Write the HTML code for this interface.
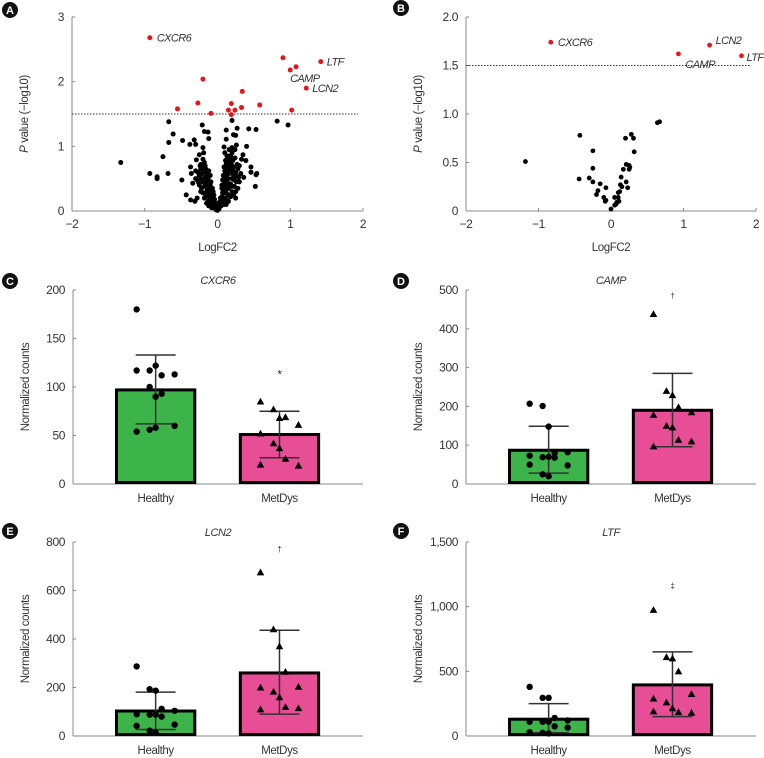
<!DOCTYPE html>
<html><head><meta charset="utf-8">
<style>
html,body{margin:0;padding:0;background:#fff;}
svg{display:block;font-family:"Liberation Sans Narrow","Liberation Sans",sans-serif;letter-spacing:-0.4px;}
</style></head>
<body>
<svg id="fig" width="764" height="758" viewBox="0 0 764 758" xmlns="http://www.w3.org/2000/svg"></svg>
<script>
// ---- Panel A data ----
const aBlackX=[-1.33,-0.93,-0.83,-0.83,-0.68,-0.67,-0.75,-0.61,-0.67,-0.49,-0.48,-0.43,-0.37,-0.37,-0.31,-0.28,-0.38,-0.32,-0.30,-0.34,-0.36,0.82,0.97,0.53,0.43,0.40,0.46,0.46,0.52,0.54,0.53,0.39,0.35,0.36,0.27,0.26,0.20,0.22,0.25,0.12,0.12,0.09,-0.13,-0.18,-0.21,-0.12,-0.20,-0.25,-0.29,-0.23,
-0.02,-0.03,-0.04,-0.05,-0.06,-0.07,-0.08,-0.09,-0.10,-0.11,-0.12,-0.13,-0.14,-0.15,-0.16,-0.17,-0.18,-0.20,-0.05,-0.08,-0.10,-0.12,-0.15,-0.18,-0.20,-0.22,-0.25,-0.27,-0.30,-0.22,-0.25,-0.28,-0.15,-0.18,-0.20,-0.23,-0.12,-0.30,-0.24,-0.21,-0.19,-0.26,-0.16,-0.14,-0.11,-0.07,-0.06,-0.09,-0.10,-0.12,
0.02,0.03,0.04,0.05,0.06,0.07,0.08,0.09,0.10,0.11,0.12,0.13,0.14,0.15,0.16,0.17,0.18,0.20,0.05,0.08,0.10,0.12,0.15,0.18,0.20,0.22,0.25,0.28,0.30,0.20,0.23,0.26,0.29,0.32,0.15,0.18,0.22,0.25,0.28,0.12,0.10,0.12,0.14,0.16,0.20,0.24,0.27,0.22,0.18,0.15,0.13,0.30,0.25,0.08,0.07,0.06,0.09,0.11,0.24,0.33,0,0.01,-0.01,0.02,
-0.03,-0.04,-0.06,-0.07,-0.09,-0.11,-0.13,-0.15,-0.17,-0.19,-0.21,-0.23,-0.08,-0.10,-0.13,-0.16,-0.02,0.04,0.06,0.08,0.10,0.11,0.13,0.14,0.16,0.17,0.19,0.21,0.23,0.26,0.09,0.12,0.15,0.17,0.19,0.21,0.03,-0.05,0.07,-0.14,0.13,0.10];
const aBlackY=[0.75,0.58,0.53,0.50,0.58,1.06,0.84,1.19,1.38,0.48,1.09,0.25,0.17,0.68,0.15,0.20,1.03,1.10,1.03,0.43,0.58,1.39,1.33,1.26,1.27,1.00,0.68,0.60,0.38,0.58,0.56,0.78,0.87,0.52,1.28,1.02,1.40,1.18,1.17,1.25,1.11,0.99,1.22,1.23,1.33,1.12,0.98,0.87,0.79,0.65,
0.02,0.05,0.08,0.10,0.15,0.20,0.25,0.30,0.35,0.40,0.45,0.50,0.55,0.60,0.65,0.70,0.75,0.80,0.05,0.12,0.18,0.22,0.30,0.38,0.45,0.50,0.55,0.60,0.62,0.35,0.40,0.48,0.12,0.20,0.28,0.30,0.08,0.50,0.70,0.58,0.90,0.44,0.42,0.33,0.26,0.35,0.30,0.45,0.55,0.62,
0.03,0.08,0.12,0.18,0.22,0.28,0.33,0.40,0.45,0.50,0.55,0.60,0.65,0.70,0.75,0.80,0.85,0.90,0.08,0.15,0.20,0.28,0.35,0.42,0.50,0.55,0.60,0.65,0.70,0.30,0.38,0.45,0.52,0.58,0.15,0.22,0.25,0.30,0.35,0.10,0.62,0.72,0.85,0.95,0.98,0.82,0.72,0.68,0.60,0.50,0.40,0.45,0.20,0.55,0.48,0.40,0.68,0.78,0.95,0.80,0.01,0.03,0.04,0.06,
0.12,0.18,0.22,0.12,0.20,0.30,0.40,0.48,0.52,0.60,0.66,0.72,0.05,0.40,0.15,0.25,0.08,0.20,0.35,0.38,0.28,0.62,0.45,0.35,0.58,0.40,0.72,0.62,0.48,0.54,0.10,0.18,0.25,0.65,0.38,0.78,0.14,0.25,0.10,0.45,0.85,0.90];
const aRedX=[-0.93,0.90,1.42,1.08,1.00,1.22,-0.20,0.34,-0.27,0.58,-0.55,0.19,0.15,0.24,0.33,-0.09,0.19,1.02];
const aRedY=[2.68,2.37,2.31,2.23,2.18,1.90,2.04,1.85,1.67,1.64,1.58,1.66,1.56,1.56,1.60,1.51,1.49,1.56];
const aLabels=["CXCR6","LTF","CAMP","LCN2"];
const aXTicks=[-2,-1,0,1,2];
const aYTicks=[0,1,2,3];
// ---- Panel B data ----
const bBlackX=[-1.18,-0.43,-0.44,-0.25,-0.25,-0.30,-0.25,-0.15,-0.18,-0.20,-0.10,-0.07,-0.07,-0.08,0.00,0.05,0.07,0.05,0.10,0.08,0.11,0.10,0.12,0.13,0.15,0.14,0.17,0.21,0.21,0.23,0.25,0.25,0.26,0.20,0.28,0.31,0.32,0.64,0.67];
const bBlackY=[0.51,0.78,0.33,0.62,0.44,0.34,0.30,0.28,0.21,0.17,0.14,0.24,0.11,0.10,0.02,0.06,0.07,0.14,0.14,0.09,0.10,0.19,0.20,0.27,0.25,0.35,0.43,0.48,0.30,0.24,0.43,0.47,0.45,0.75,0.79,0.75,0.61,0.91,0.92];
const bRedX=[-0.83,0.93,1.36,1.80];
const bRedY=[1.74,1.62,1.71,1.60];
const bXTicks=[-2,-1,0,1,2];
const bYTicks=[0,0.5,1.0,1.5,2.0];
const bYTickLabels=["0","0.5","1.0","1.5","2.0"];
// ---- Bar panels data ----
const groups=["Healthy","MetDys"];
const cMeans=[97,51], cLo=[62,27], cHi=[133,75];
const cHealthy=[180,117,122,112,113,117,100,90,93,60,54,56,58];
const cMet=[85,77,68,69,61,52,42,37,26,19,20];
const cTicks=[0,50,100,150,200];
const dMeans=[87,190], dLo=[28,96], dHi=[149,285];
const dHealthy=[207,201,148,80,82,73,69,70,68,48,50,25,20];
const dMet=[438,240,229,198,185,178,150,146,114,110,97];
const dTicks=[0,100,200,300,400,500];
const eMeans=[103,260], eLo=[27,90], eHi=[181,436];
const eHealthy=[287,193,187,112,104,90,88,88,80,47,42,22,15];
const eMet=[675,440,370,265,203,200,183,160,120,115,110];
const eTicks=[0,200,400,600,800];
const fMeans=[130,395], fLo=[25,150], fHi=[250,650];
const fHealthy=[380,295,295,140,120,110,110,110,75,65,30,25,20];
const fMet=[975,610,600,500,325,290,260,215,185,180,190];
const fTicks=[0,500,1000,1500];
const fTickLabels=["0","500","1,000","1,500"];

const NS="http://www.w3.org/2000/svg";
const svg=document.getElementById('fig');
function el(tag,attrs,parent,text){
  const e=document.createElementNS(NS,tag);
  for(const k in attrs)e.setAttribute(k,attrs[k]);
  if(text!==undefined)e.textContent=text;
  (parent||svg).appendChild(e);return e;
}
function panelLabel(x,y,L){
  const g=el('g',{});
  
  
  el('circle',{cx:x,cy:y,r:8,fill:'#111'},g);
  el('text',{x:x,y:y+4,'text-anchor':'middle','font-size':11,'font-weight':'bold',fill:'#fff','letter-spacing':0},g,L);
}
function volcano(opt){
  const g=el('g',{});
  
  
  const sx=v=>opt.x0+(v-(-2))/4*(opt.x1-opt.x0);
  const sy=v=>opt.y0-(v/opt.ymax)*(opt.y0-opt.y1);
  const ax=el('g',{},g);
  
  
  el('line',{x1:opt.x0,y1:opt.y1,x2:opt.x0,y2:opt.y0,stroke:'#888','stroke-width':1},ax);
  el('line',{x1:opt.x0,y1:opt.y0,x2:opt.x1,y2:opt.y0,stroke:'#888','stroke-width':1},ax);
  opt.xt.forEach(t=>{
    el('line',{x1:sx(t),y1:opt.y0,x2:sx(t),y2:opt.y0-3,stroke:'#888'},ax);
    const tx=el('text',{x:sx(t),y:opt.y0+17,'text-anchor':'middle','font-size':12,fill:'#333'},ax,t<0?'\u2212'+(-t):String(t));
    
    
  });
  opt.yt.forEach((t,i)=>{
    el('line',{x1:opt.x0,y1:sy(t),x2:opt.x0+3,y2:sy(t),stroke:'#888'},ax);
    const ty=el('text',{x:opt.x0-8,y:sy(t)+4,'text-anchor':'end','font-size':12,fill:'#333'},ax,opt.ytl?opt.ytl[i]:String(t));
    
    
  });
  const xl=el('text',{x:(opt.x0+opt.x1)/2,y:opt.y0+40,'text-anchor':'middle','font-size':11.5,fill:'#333'},g,'LogFC2');
  
  
  const cy=(opt.y0+opt.y1)/2;
  const yl=el('text',{x:opt.x0-44,y:cy,'text-anchor':'middle','font-size':11.5,fill:'#333',transform:`rotate(-90 ${opt.x0-44} ${cy})`},g);
  
  
  el('tspan',{'font-style':'italic'},yl,'P');
  el('tspan',{},yl,' value (\u2212log10)');
  const th=el('line',{x1:opt.x0,y1:sy(1.5),x2:opt.x1-5,y2:sy(1.5),stroke:'#333','stroke-width':1,'stroke-dasharray':'1.5,1.5'},g);
  
  
  opt.bx.forEach((v,i)=>{
    const c=el('circle',{cx:sx(v),cy:sy(opt.by[i]),r:opt.r,fill:'#000'},g);
    
    
  });
  opt.rx.forEach((v,i)=>{
    const c=el('circle',{cx:sx(v),cy:sy(opt.ry[i]),r:opt.r,fill:'#e8141b'},g);
    
    
  });
  opt.labels.forEach(l=>{
    const t=el('text',{x:sx(opt.rx[l[0]])+l[1],y:sy(opt.ry[l[0]])+l[2],'font-size':11,'font-style':'italic',fill:'#333','letter-spacing':-0.6},g,l[3]);
    
    
  });
}
volcano({id:'a',x0:72,x1:363,y0:211,y1:17,ymax:3,xt:aXTicks,yt:aYTicks,bx:aBlackX,by:aBlackY,rx:aRedX,ry:aRedY,r:2.5,
  labels:[[0,7,4,aLabels[0]],[2,6,4,aLabels[1]],[3,-6,15,aLabels[2]],[5,6,4,aLabels[3]]]});
volcano({id:'b',x0:466,x1:756,y0:211,y1:17,ymax:2,xt:bXTicks,yt:bYTicks,ytl:bYTickLabels,bx:bBlackX,by:bBlackY,rx:bRedX,ry:bRedY,r:2.4,
  labels:[[0,7,4,"CXCR6"],[1,7,14,"CAMP"],[2,6,-1,"LCN2"],[3,5,5,"LTF"]]});

function barPanel(opt){
  const g=el('g',{});
  
  
  const sy=v=>opt.y0-(v/opt.ymax)*(opt.y0-opt.y1);
  const ax=el('g',{},g);
  
  
  el('line',{x1:opt.x0,y1:opt.y1,x2:opt.x0,y2:opt.y0,stroke:'#888'},ax);
  el('line',{x1:opt.x0,y1:opt.y0,x2:opt.x1,y2:opt.y0,stroke:'#888'},ax);
  opt.ticks.forEach((t,i)=>{
    el('line',{x1:opt.x0,y1:sy(t),x2:opt.x0+3,y2:sy(t),stroke:'#888'},ax);
    const ty=el('text',{x:opt.x0-8,y:sy(t)+4,'text-anchor':'end','font-size':12,fill:'#333'},ax,opt.tl?opt.tl[i]:String(t));
    
    
  });
  const cy=(opt.y0+opt.y1)/2;
  const yl=el('text',{x:opt.x0-44,y:cy,'text-anchor':'middle','font-size':11.5,fill:'#333',transform:`rotate(-90 ${opt.x0-44} ${cy})`},g,'Normalized counts');
  
  
  const tt=el('text',{x:(opt.x0+opt.x1)/2,y:opt.y1-6,'text-anchor':'middle','font-size':11,'font-style':'italic',fill:'#333'},g,opt.gene);
  
  
  const w=opt.x1-opt.x0;
  const centers=[opt.x0+w*0.285,opt.x0+w*0.712];
  const bw=w*0.27;
  const cols=['#3cb44a','#e84e95'];
  const pts=[opt.h,opt.m];
  const jit=[-19,-6,0,6,19];
  groups.forEach((gname,i)=>{
    const c=centers[i];
    const b=el('rect',{x:c-bw/2,y:sy(opt.means[i]),width:bw,height:opt.y0-sy(opt.means[i])-1.5,fill:cols[i],stroke:'#000','stroke-width':3},g);
    
    
    const eb=el('g',{},g);
    
    
    el('line',{x1:c,y1:sy(opt.lo[i]),x2:c,y2:sy(opt.hi[i]),stroke:'#333','stroke-width':1.5},eb);
    el('line',{x1:c-20,y1:sy(opt.lo[i]),x2:c+20,y2:sy(opt.lo[i]),stroke:'#333','stroke-width':1.5},eb);
    el('line',{x1:c-20,y1:sy(opt.hi[i]),x2:c+20,y2:sy(opt.hi[i]),stroke:'#333','stroke-width':1.5},eb);
    pts[i].forEach((v,k)=>{
      const x=c+jit[k%5], y=sy(v);
      let p;
      if(i===0) p=el('circle',{cx:x,cy:y,r:3.2,fill:'#000'},g);
      else p=el('polygon',{points:`${x},${y-3.8} ${x-3.8},${y+3} ${x+3.8},${y+3}`,fill:'#000'},g);
      
      
    });
    const xl=el('text',{x:c,y:opt.y0+18,'text-anchor':'middle','font-size':11.5,fill:'#333'},g,gname);
    
    
  });
  const s=el('text',{x:centers[1],y:sy(opt.sig[0])+4,'text-anchor':'middle','font-size':opt.sig[2],fill:'#333'},g,opt.sig[1]);
  
  
}
barPanel({gene:'CXCR6',x0:73,x1:363,y0:484,y1:290,ymax:200,ticks:cTicks,means:cMeans,lo:cLo,hi:cHi,h:cHealthy,m:cMet,sig:[113,'*',12]});
barPanel({gene:'CAMP',x0:466,x1:756,y0:484,y1:290,ymax:500,ticks:dTicks,means:dMeans,lo:dLo,hi:dHi,h:dHealthy,m:dMet,sig:[488,'\u2020',8]});
barPanel({gene:'LCN2',x0:73,x1:363,y0:736,y1:542,ymax:800,ticks:eTicks,means:eMeans,lo:eLo,hi:eHi,h:eHealthy,m:eMet,sig:[775,'\u2020',8]});
barPanel({gene:'LTF',x0:466,x1:756,y0:736,y1:542,ymax:1500,ticks:fTicks,tl:fTickLabels,means:fMeans,lo:fLo,hi:fHi,h:fHealthy,m:fMet,sig:[1170,'\u2021',8]});

panelLabel(10,10,'A');panelLabel(401,8,'B');panelLabel(10,281,'C');panelLabel(401,281,'D');panelLabel(10,531,'E');panelLabel(401,531,'F');
</script>
</body></html>
